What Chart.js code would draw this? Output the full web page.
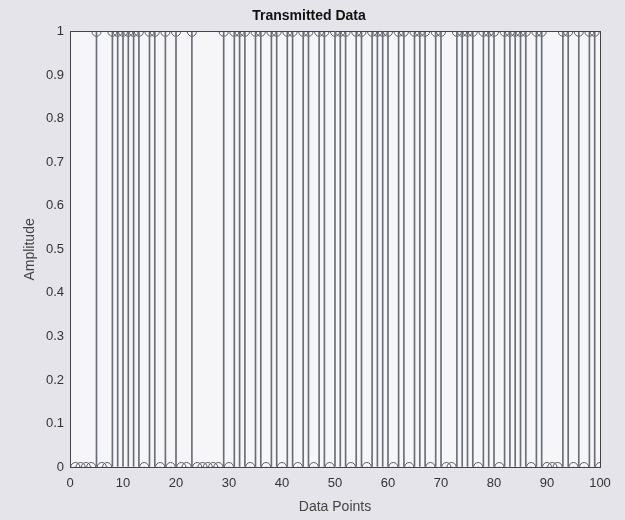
<!DOCTYPE html>
<html>
<head>
<meta charset="utf-8">
<script src="https://cdn.jsdelivr.net/npm/chart.js@4.4.1/dist/chart.umd.min.js"></script>
<style>
  html, body { margin: 0; padding: 0; background: #e4e4ea; }
  #wrap { width: 625px; height: 520px; position: relative; }
</style>
</head>
<body>
<div id="wrap"><canvas id="c" width="625" height="520"></canvas></div>
<script>
// Data points 1..100 and the transmitted bit at each point
const dataPoints = Array.from({length: 100}, (_, i) => i + 1);
const onesAt = [5, 8, 9, 10, 11, 12, 13, 15, 16, 18, 20, 23,
  29, 31, 32, 33, 35, 36, 38, 39, 41, 42, 44, 45, 47, 48, 50, 51, 52, 54, 55,
  57, 58, 59, 60, 62, 63, 65, 66, 67, 69, 70,
  73, 74, 75, 76, 78, 79, 80, 82, 83, 84, 85, 86, 88, 89,
  93, 94, 96, 98, 99];
const amplitude = dataPoints.map(p => onesAt.includes(p) ? 1 : 0);
const xTicks = [0, 10, 20, 30, 40, 50, 60, 70, 80, 90, 100];
const yTicks = [0, 0.1, 0.2, 0.3, 0.4, 0.5, 0.6, 0.7, 0.8, 0.9, 1];

const pts = dataPoints.map((p, i) => ({x: p, y: amplitude[i]}));
const FONT = "'Liberation Sans', Arial, sans-serif";

const plotBg = {
  id: 'plotBg',
  beforeDraw(chart) {
    const {ctx, chartArea: a} = chart;
    ctx.save();
    ctx.fillStyle = '#f6f6f9';
    ctx.fillRect(a.left, a.top, a.right - a.left, a.bottom - a.top);
    ctx.restore();
  }
};

new Chart(document.getElementById('c'), {
  data: {
    datasets: [
      {
        type: 'bar',
        data: pts,
        backgroundColor: '#6a6e76',
        barThickness: 1,
        xAxisID: 'x', yAxisID: 'y'
      },
      {
        type: 'scatter',
        data: pts,
        pointRadius: 4.5,
        pointBorderWidth: 1,
        pointBorderColor: '#5a5e66',
        pointBackgroundColor: 'rgba(0,0,0,0)',
        xAxisID: 'x', yAxisID: 'y'
      }
    ]
  },
  options: {
    responsive: false,
    animation: false,
    layout: { padding: { left: 18, right: 25, top: 4, bottom: 0 } },
    plugins: {
      legend: { display: false },
      tooltip: { enabled: false },
      title: {
        display: true,
        text: 'Transmitted Data',
        color: '#111',
        font: { family: FONT, size: 14, weight: 'bold' },
        padding: { top: 4, bottom: 7 }
      }
    },
    scales: {
      x: {
        type: 'linear', min: 0, max: 100, offset: false,
        afterBuildTicks: s => { s.ticks = xTicks.map(v => ({value: v})); },
        ticks: { color: '#333', font: { family: FONT, size: 13 }, padding: 9, maxRotation: 0 },
        grid: { drawOnChartArea: false, drawTicks: false, offset: false },
        border: { color: '#444', width: 1 },
        title: { display: true, text: 'Data Points', color: '#444', font: { family: FONT, size: 14 }, padding: { top: 8 } },
        afterFit: s => { s.height = 53; }
      },
      x2: {
        type: 'linear', position: 'top', min: 0, max: 100, offset: false,
        ticks: { display: false },
        grid: { drawOnChartArea: false, drawTicks: false },
        border: { color: '#444', width: 1 },
        afterFit: s => { s.height = 0; }
      },
      y: {
        type: 'linear', min: 0, max: 1,
        afterBuildTicks: s => { s.ticks = yTicks.map(v => ({value: v})); },
        ticks: { color: '#333', font: { family: FONT, size: 13 }, padding: 6,
                 callback: v => String(Math.round(v * 10) / 10) },
        grid: { drawOnChartArea: false, drawTicks: false },
        border: { color: '#444', width: 1 },
        title: { display: true, text: 'Amplitude', color: '#444', font: { family: FONT, size: 14 }, padding: { bottom: 2 } },
        afterFit: s => { s.width = 52; }
      },
      y2: {
        type: 'linear', position: 'right', min: 0, max: 1,
        ticks: { display: false },
        grid: { drawOnChartArea: false, drawTicks: false },
        border: { color: '#444', width: 1 },
        afterFit: s => { s.width = 0; }
      }
    }
  },
  plugins: [plotBg]
});
</script>
</body>
</html>
